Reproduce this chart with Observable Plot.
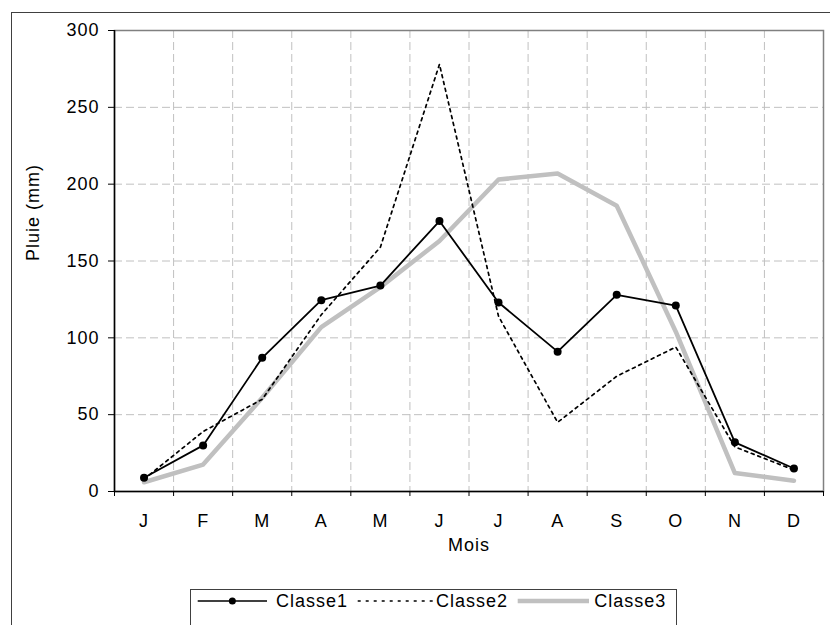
<!DOCTYPE html>
<html>
<head>
<meta charset="utf-8">
<script src="https://cdn.jsdelivr.net/npm/d3@7"></script>
<script src="https://cdn.jsdelivr.net/npm/@observablehq/plot@0.6"></script>
<style>
  html, body { margin: 0; padding: 0; background: #fff; overflow: hidden; }
  #wrap { position: relative; width: 830px; height: 625px; overflow: hidden; font-family: "Liberation Sans", Arial, sans-serif; }
  #outer { position: absolute; left: 11px; top: 12px; width: 900px; height: 700px; border: 1px solid #404040; box-sizing: border-box; }
  #chart { position: absolute; left: 0; top: 0; }
  #legend { position: absolute; left: 190px; top: 589px; width: 487px; height: 60px; border: 1px solid #404040; box-sizing: border-box; background: #fff; }
  #legend svg { position: absolute; left: 0; top: 0; }
</style>
</head>
<body>
<div id="wrap">
  <div id="outer"></div>
  <div id="chart"></div>
  <div id="legend"></div>
</div>
<script>
const months = ["J","F","M","A","M","J","J","A","S","O","N","D"];
const classe1 = [9, 30, 87, 124.5, 134, 176, 123, 91, 128, 121, 32, 15];
const classe2 = [8, 39, 60, 115, 159, 278, 114, 45, 75, 94, 29, 14];
const classe3 = [6, 17.5, 61, 107, 133, 163, 203, 207, 186, 104, 12, 7];
const yTicks = [0, 50, 100, 150, 200, 250, 300];
const seriesNames = ["Classe1", "Classe2", "Classe3"];

const rows = months.map((m, k) => ({i: k + 1, m, c1: classe1[k], c2: classe2[k], c3: classe3[k]}));
const centers = rows.map(d => d.i);
const bounds = [centers[0] - 0.5, ...centers.map(c => c + 0.5)];
const innerBounds = bounds.slice(1, -1);

const font = "Liberation Sans, Arial, sans-serif";

const chart = Plot.plot({
  width: 830,
  height: 625,
  marginLeft: 114,
  marginRight: 7,
  marginTop: 30,
  marginBottom: 134,
  x: {type: "linear", domain: [bounds[0], bounds[bounds.length - 1]]},
  y: {domain: [yTicks[0], yTicks[yTicks.length - 1]]},
  style: {fontFamily: font, fontSize: "18px", background: "transparent", color: "black", letterSpacing: "1px"},
  marks: [
    Plot.gridY(yTicks.filter(v => v > yTicks[0] && v < yTicks[yTicks.length - 1]), {stroke: "#c0c0c0", strokeOpacity: 1, strokeDasharray: "8,4"}),
    Plot.gridX(innerBounds, {stroke: "#c0c0c0", strokeOpacity: 1, strokeDasharray: "8,4"}),
    Plot.frame({stroke: "#808080", strokeWidth: 1.5}),
    Plot.ruleX([bounds[0]], {stroke: "black", strokeWidth: 1.5}),
    Plot.ruleY([yTicks[0]], {stroke: "black", strokeWidth: 1.5}),
    Plot.axisY({ticks: yTicks, tickSize: 6, tickPadding: 9, label: null, fontSize: 18}),
    Plot.axisX({ticks: bounds, tickSize: 5, tickFormat: () => "", label: null}),
    Plot.axisX({ticks: centers, tickSize: 0, tickPadding: 23, tickFormat: i => months[i - 1], label: null, fontSize: 18}),
    Plot.text(["Pluie (mm)"], {text: d => d, frameAnchor: "left", dx: -81, rotate: -90, fontSize: 18}),
    Plot.text(["Mois"], {text: d => d, frameAnchor: "bottom", dy: 59, fontSize: 18}),
    Plot.line(rows, {x: "i", y: "c3", stroke: "#c0c0c0", strokeWidth: 4.5}),
    Plot.line(rows, {x: "i", y: "c2", stroke: "black", strokeWidth: 1.7, strokeDasharray: "3,4"}),
    Plot.line(rows, {x: "i", y: "c1", stroke: "black", strokeWidth: 1.8}),
    Plot.dot(rows, {x: "i", y: "c1", r: 4, fill: "black", stroke: "none"})
  ]
});
document.getElementById("chart").appendChild(chart);

// Legend
const leg = d3.select("#legend").append("svg").attr("width", 487).attr("height", 36)
  .style("font-family", font).style("font-size", "18px").style("letter-spacing", "1px");
const ly = 11;
const items = [
  {name: seriesNames[0], x1: 6.7, x2: 76, tx: 85, stroke: "black", w: 1.6, dash: null, dot: true},
  {name: seriesNames[1], x1: 166.7, x2: 241.7, tx: 245, stroke: "black", w: 1.6, dash: "3,5", dot: false},
  {name: seriesNames[2], x1: 326.7, x2: 398, tx: 403.3, stroke: "#c0c0c0", w: 4.5, dash: null, dot: false}
];
for (const it of items) {
  const l = leg.append("line").attr("x1", it.x1).attr("x2", it.x2).attr("y1", ly).attr("y2", ly)
    .attr("stroke", it.stroke).attr("stroke-width", it.w);
  if (it.dash) l.attr("stroke-dasharray", it.dash);
  if (it.dot) leg.append("circle").attr("cx", (it.x1 + it.x2) / 2).attr("cy", ly).attr("r", 3.5).attr("fill", "black");
  leg.append("text").attr("x", it.tx).attr("y", ly).attr("dy", "0.35em").text(it.name);
}
</script>
</body>
</html>
